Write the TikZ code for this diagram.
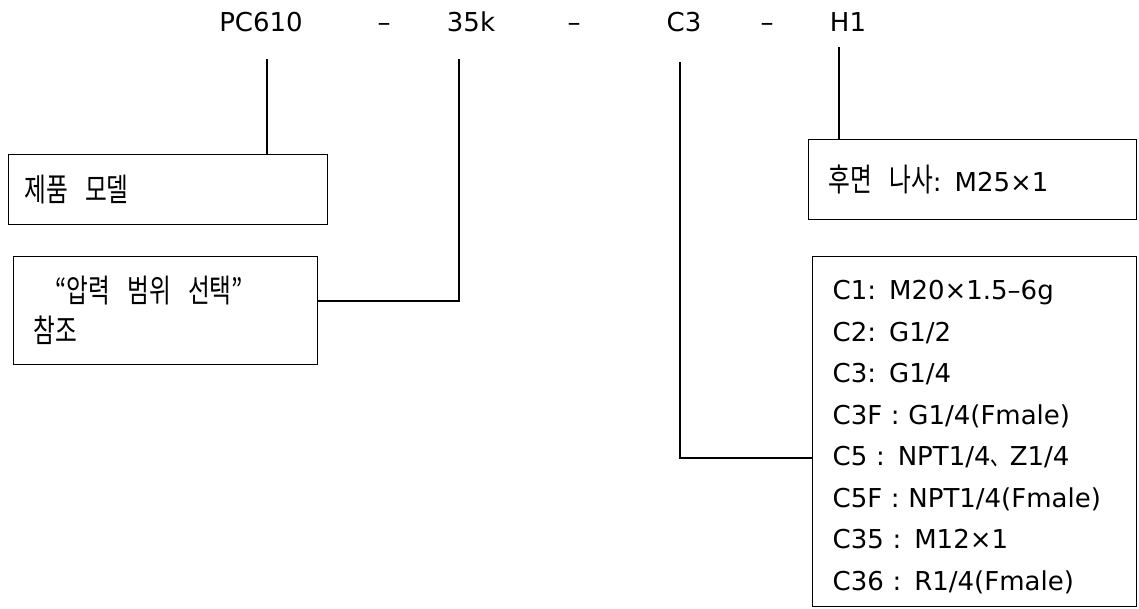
\documentclass[tikz,border=0pt]{standalone}
\usepackage{fontspec}
\setmainfont{DejaVu Sans}
\newfontfamily\kr[FakeStretch=0.74]{Noto Sans CJK KR}
\newcommand\hg[1]{{\kr\fontsize{32}{30}\selectfont\spaceskip=17pt\relax #1}}

\begin{document}
\begin{tikzpicture}[x=1pt,y=-1pt,
  part/.style={anchor=base,inner sep=0pt,font=\fontsize{26}{30}\selectfont},
  infobox/.style={draw,line width=1.3pt,anchor=north west,align=left,
    inner xsep=20pt,inner ysep=0pt,font=\fontsize{26}{41.5}\selectfont},
  lead/.style={line width=1.3pt}]

\useasboundingbox (0,0) rectangle (1139,608);

\node [part] (model) at (261,31) {PC610};
\node [part] (range) at (471,31) {35k};
\node [part] (conn)  at (684,31) {C3};
\node [part] (thread) at (848,31) {H1};

\foreach \x/\n in {384/d1,574/d2,767/d3}
    \node [part] (\n) at (\x,31) {–};

\coordinate (modelTop)  at (267,59);
\coordinate (rangeTop)  at (459,59);
\coordinate (rangeBend) at (459,301);
\coordinate (connTop)   at (680,62);
\coordinate (connBend)  at (680,458);
\coordinate (threadTop) at (839,47);

\node [infobox, inner xsep=16pt, text width=287pt, minimum height=70pt] (modelbox) at (8,154)
    {\raisebox{-3pt}{\hg{제품 모델}}};

\node [infobox, text width=264pt, minimum height=108pt, font=\fontsize{26}{40}\selectfont] (rangebox) at (13,256)
    {\hspace*{22pt}\hg{“압력 범위 선택”}\\ \hg{참조}};

\node [infobox, text width=288pt, minimum height=80pt] (threadbox) at (808,139)
    {\raisebox{-6pt}{\hg{후면 나사}: M25×1}};

\node [infobox, text width=284pt, minimum height=350pt] (connbox) at (812,256)
    {\rule{0pt}{30pt}C1: M20×1.5–6g\\
     C2: G1/2\\
     C3: G1/4\\
     C3F : G1/4(Fmale)\\
     C5 : NPT1/4{\kr 、}Z1/4\\
     C5F : NPT1/4(Fmale)\\
     C35 : M12×1\\
     C36 : R1/4(Fmale)};

\draw [lead] (modelTop) -- (modelTop |- modelbox.north);
\draw [lead] (rangeTop) -- (rangeBend) -- (rangeBend -| rangebox.east);
\draw [lead] (connTop) -- (connBend) -- (connBend -| connbox.west);
\draw [lead] (threadTop) -- (threadTop |- threadbox.north);

\end{tikzpicture}
\end{document}
